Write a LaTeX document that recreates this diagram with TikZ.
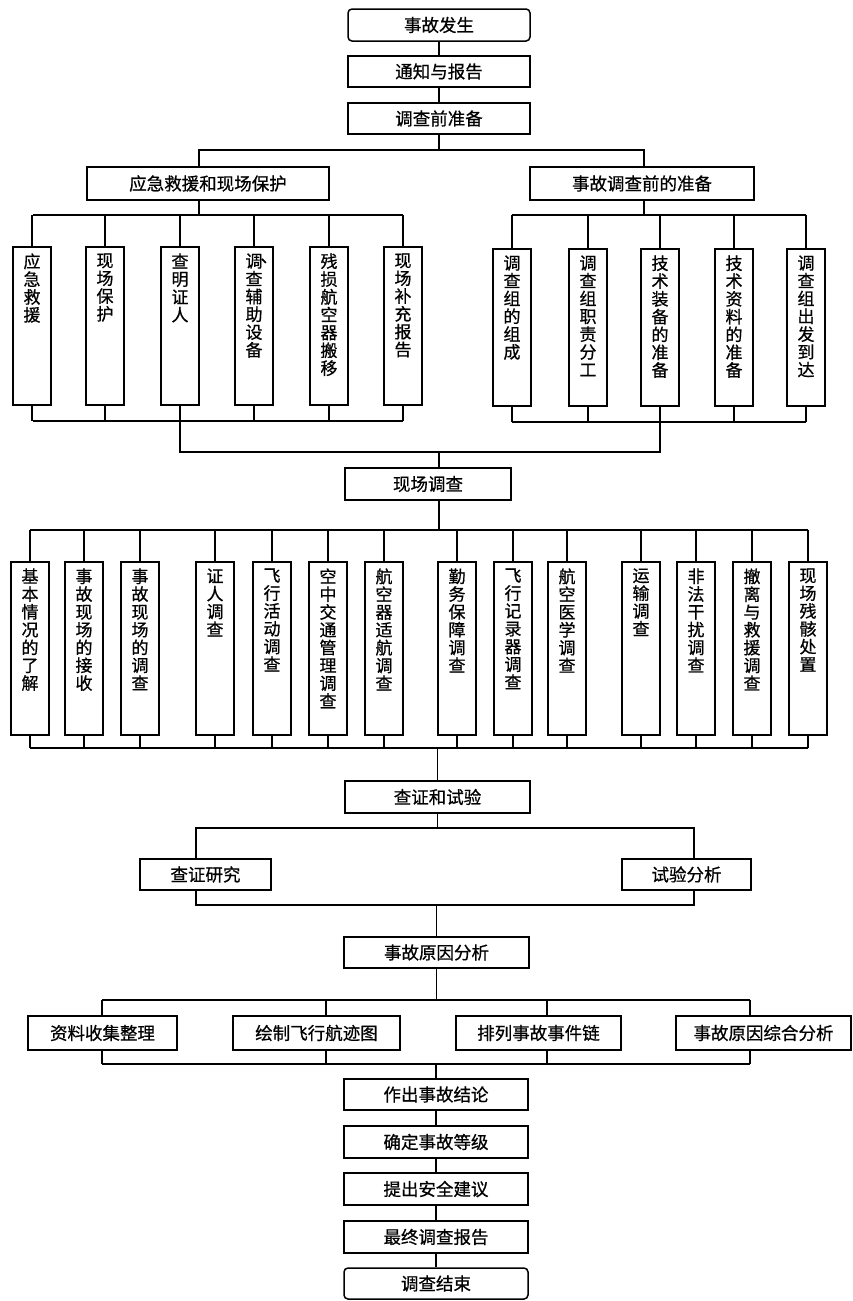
\documentclass[tikz,border=0pt]{standalone}
\usepackage{fontspec}
\newfontfamily\cjk{Noto Sans CJK SC}[FakeBold=0.7]
\begin{document}
\begin{tikzpicture}[x=1pt,y=-1pt,
  ln/.style={line width=1.3pt},
  hbox/.style={draw,line width=1.5pt,inner sep=0pt,minimum height=32pt,font=\cjk\fontsize{17.5}{19}\selectfont},
  rbox/.style={hbox,rounded corners=4pt},
  vbox/.style={draw,line width=1.5pt,inner sep=0pt,minimum width=38pt},
  vlab/.style={anchor=north,inner sep=0pt,align=center,text width=17pt,font=\cjk\fontsize{17}{17.8}\selectfont,yshift=-7pt}]
\useasboundingbox (0,0) rectangle (853,1301);
\fill[white] (0,0) rectangle (853,1301);

% ---------- top chain
\node[rbox,minimum width=182pt] (A) at (439,25) {事故发生};
\node[hbox,minimum width=182pt,minimum height=31pt] (B) at (439,71.5) {通知与报告};
\node[hbox,minimum width=182pt,minimum height=31pt] (C) at (439,118.5) {调查前准备};
\draw[ln] (A) -- (B);
\draw[ln] (B) -- (C);

\node[hbox,minimum width=242pt,minimum height=33pt] (D) at (208,183.5) {应急救援和现场保护};
\node[hbox,minimum width=224pt,minimum height=33pt] (E) at (642,183.5) {事故调查前的准备};
\coordinate (j1l) at (199,150);
\coordinate (j1r) at (644,150);
\draw[ln] (C.south) -- (C.south |- j1l);
\draw[ln] (j1l |- D.north) -- (j1l) -- (j1r) -- (j1r |- E.north);

% ---------- left group
\foreach \n/\x/\t in {1/32/{应\\急\\救\\援},
                      2/105/{现\\场\\保\\护},
                      3/180/{查\\明\\证\\人},
                      4/254/{调\rlap{\raisebox{5pt}{\kern-2pt 、}}\\查\\辅\\助\\设\\备},
                      5/329/{残\\损\\航\\空\\器\\搬\\移},
                      6/403/{现\\场\\补\\充\\报\\告}}{
  \node[vbox,minimum height=158pt] (L\n) at (\x,326) {};
  \node[vlab] (L\n t) at (L\n.north) {\t};
}
\coordinate (t1l) at (33,215);
\coordinate (t1r) at (403,215);
\coordinate (b1l) at (33,421);
\coordinate (b1r) at (403,421);
\draw[ln] (j1l |- D.south) -- (j1l |- t1l);
\draw[ln] (t1l) -- (t1r);
\draw[ln] (b1l) -- (b1r);
\foreach \n in {1,...,6}{
  \draw[ln] (L\n.north) -- (L\n.north |- t1l);
  \draw[ln] (L\n.south) -- (L\n.south |- b1l);
}

% ---------- right group
\foreach \n/\x/\t in {1/512/{调\\查\\组\\的\\组\\成},
                      2/588/{调\\查\\组\\职\\责\\分\\工},
                      3/660/{技\\术\\装\\备\\的\\准\\备},
                      4/734/{技\\术\\资\\料\\的\\准\\备},
                      5/806/{调\\查\\组\\出\\发\\到\\达}}{
  \node[vbox,minimum height=157pt] (R\n) at (\x,327.5) {};
  \node[vlab] (R\n t) at (R\n.north) {\t};
}
\coordinate (t2l) at (512,215);
\coordinate (t2r) at (806,215);
\coordinate (b2l) at (512,422);
\coordinate (b2r) at (806,422);
\draw[ln] (j1r |- E.south) -- (j1r |- t2l);
\draw[ln] (t2l) -- (t2r);
\draw[ln] (b2l) -- (b2r);
\foreach \n in {1,...,5}{
  \draw[ln] (R\n.north) -- (R\n.north |- t2l);
  \draw[ln] (R\n.south) -- (R\n.south |- b2l);
}

% ---------- merge to site investigation
\coordinate (m1) at (180,452);
\coordinate (m2) at (660,452);
\coordinate (m0) at (439,452);
\node[hbox,minimum width=166pt] (F) at (428,484) {现场调查};
\draw[ln] (m1 |- b1l) -- (m1) -- (m2) -- (m2 |- b2l);
\draw[ln] (m0) -- (m0 |- F.north);

% ---------- site investigation items
\foreach \n/\x/\t in {1/30/{基\\本\\情\\况\\的\\了\\解},
                      2/84/{事\\故\\现\\场\\的\\接\\收},
                      3/140/{事\\故\\现\\场\\的\\调\\查},
                      4/215/{证\\人\\调\\查},
                      5/272/{飞\\行\\活\\动\\调\\查},
                      6/328/{空\\中\\交\\通\\管\\理\\调\\查},
                      7/384/{航\\空\\器\\适\\航\\调\\查},
                      8/457/{勤\\务\\保\\障\\调\\查},
                      9/513/{飞\\行\\记\\录\\器\\调\\查},
                      10/567/{航\\空\\医\\学\\调\\查},
                      11/641/{运\\输\\调\\查},
                      12/696/{非\\法\\干\\扰\\调\\查},
                      13/752/{撤\\离\\与\\救\\援\\调\\查},
                      14/808/{现\\场\\残\\骸\\处\\置}}{
  \node[vbox,minimum height=173pt] (S\n) at (\x,648.5) {};
  \node[vlab] (S\n t) at (S\n.north) {\t};
}
\coordinate (t3l) at (30,530);
\coordinate (t3r) at (808,530);
\coordinate (b3l) at (30,748);
\coordinate (b3r) at (808,748);
\draw[ln] (F.south -| m0) -- (m0 |- t3l);
\draw[ln] (t3l) -- (t3r);
\draw[ln] (b3l) -- (b3r);
\foreach \n in {1,...,14}{
  \draw[ln] (S\n.north) -- (S\n.north |- t3l);
  \draw[ln] (S\n.south) -- (S\n.south |- b3l);
}

% ---------- verification and tests
\node[hbox,minimum width=185pt] (G) at (437.5,797) {查证和试验};
\draw[ln] (G.north |- b3l) -- (G.north);
\node[hbox,minimum width=131pt,minimum height=31pt] (H) at (205.5,874.5) {查证研究};
\node[hbox,minimum width=129pt,minimum height=31pt] (I) at (686.5,874.5) {试验分析};
\coordinate (t4l) at (196,828);
\coordinate (t4r) at (694,828);
\coordinate (b4l) at (196,905);
\coordinate (b4r) at (694,905);
\draw[ln] (G.south) -- (G.south |- t4l);
\draw[ln] (t4l |- H.north) -- (t4l) -- (t4r) -- (t4r |- I.north);
\draw[ln] (t4l |- H.south) -- (b4l) -- (b4r) -- (t4r |- I.south);

% ---------- cause analysis
\node[hbox,minimum width=185pt,minimum height=31pt] (J) at (436.5,952.5) {事故原因分析};
\draw[ln] (J.north |- b4l) -- (J.north);
\node[hbox,minimum width=149pt,minimum height=34pt] (K1) at (102.5,1033) {资料收集整理};
\node[hbox,minimum width=167pt,minimum height=34pt] (K2) at (316.5,1033) {绘制飞行航迹图};
\node[hbox,minimum width=165pt,minimum height=34pt] (K3) at (538.5,1033) {排列事故事件链};
\node[hbox,minimum width=175pt,minimum height=34pt] (K4) at (763.5,1033) {事故原因综合分析};
\coordinate (t5l) at (102,1000);
\coordinate (t5r) at (750,1000);
\coordinate (b5l) at (102,1064);
\coordinate (b5r) at (750,1064);
\draw[ln] (J.south) -- (J.south |- t5l);
\draw[ln] (t5l) -- (t5r);
\draw[ln] (b5l) -- (b5r);
\foreach \n/\x in {1/102,2/326,3/547,4/750}{
  \draw[ln] (\x,1000) -- (\x,1000 |- K\n.north);
  \draw[ln] (\x,1000 |- K\n.south) -- (\x,1064);
}

% ---------- bottom chain
\node[hbox,minimum width=184pt,minimum height=31pt] (M1) at (436,1094.5) {作出事故结论};
\node[hbox,minimum width=184pt,minimum height=32pt] (M2) at (436,1142) {确定事故等级};
\node[hbox,minimum width=184pt,minimum height=32pt] (M3) at (436,1189) {提出安全建议};
\node[hbox,minimum width=184pt,minimum height=32pt] (M4) at (436,1237) {最终调查报告};
\node[rbox,minimum width=184pt,minimum height=31pt] (M5) at (436,1283.5) {调查结束};
\draw[ln] (M1.north |- b5l) -- (M1.north);
\draw[ln] (M1) -- (M2);
\draw[ln] (M2) -- (M3);
\draw[ln] (M3) -- (M4);
\draw[ln] (M4) -- (M5);
\end{tikzpicture}
\end{document}
